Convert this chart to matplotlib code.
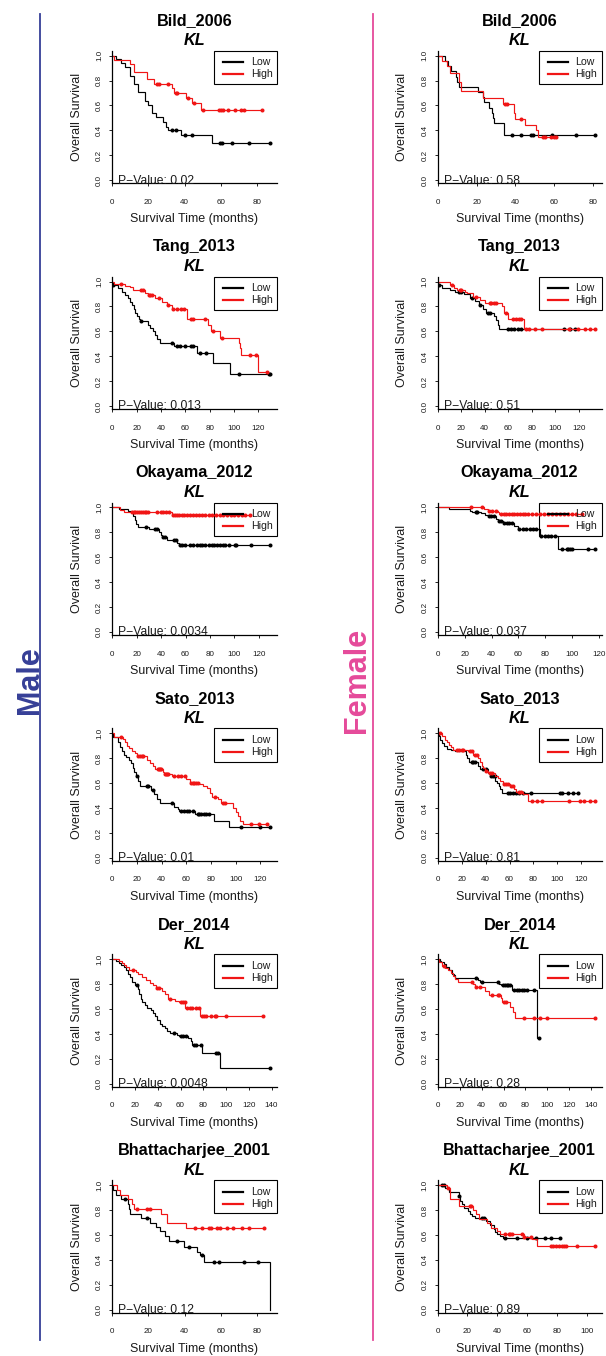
import numpy as np
import matplotlib
matplotlib.use("Agg")
import matplotlib.pyplot as plt
from matplotlib.lines import Line2D
from matplotlib.patches import Rectangle

plt.rcParams['font.family'] = ['Liberation Sans', 'DejaVu Sans']

# ---------------------------------------------------------------- data
studies = ["Bild_2006", "Tang_2013", "Okayama_2012", "Sato_2013", "Der_2014", "Bhattacharjee_2001"]
gene = "KL"
groups = ["Low", "High"]
pvals_male = ["0.02", "0.013", "0.0034", "0.01", "0.0048", "0.12"]
pvals_female = ["0.58", "0.51", "0.037", "0.81", "0.28", "0.89"]

# Kaplan-Meier curves: event times (_t), survival after each event (_s), censor times (_c)
# --- Bild_2006
bild_m_low_t = [2, 5, 7, 10, 12, 14, 18, 20, 22, 24, 28, 30, 31, 38, 55]
bild_m_low_s = [0.97, 0.94, 0.91, 0.84, 0.77, 0.71, 0.64, 0.60, 0.54, 0.51, 0.47, 0.43, 0.405, 0.365, 0.30]
bild_m_low_c = [33, 35, 40, 44, 59.5, 60.5, 66.5, 75.5, 87.5]
bild_m_high_t = [1, 10, 12, 19, 23, 33, 34, 41, 44, 49]
bild_m_high_s = [0.965, 0.93, 0.87, 0.81, 0.775, 0.74, 0.70, 0.66, 0.62, 0.565]
bild_m_high_c = [25, 26, 31, 35, 36, 42, 45, 50, 59, 60, 61, 64, 68, 71, 73, 83]

bild_f_low_t = [4, 5.5, 7, 9.5, 10, 11, 20.5, 23.5, 24, 26.5, 27.7, 28.5, 29, 34]
bild_f_low_s = [0.96, 0.92, 0.875, 0.83, 0.79, 0.75, 0.71, 0.67, 0.625, 0.58, 0.54, 0.50, 0.46, 0.365]
bild_f_low_c = [38, 43, 48, 48.8, 59, 71, 81]
bild_f_high_t = [2.4, 4.6, 6.3, 11, 12, 23.4, 33.7, 39.3, 40, 44.8, 50.5, 51.5]
bild_f_high_s = [0.96, 0.92, 0.86, 0.79, 0.715, 0.66, 0.61, 0.54, 0.49, 0.44, 0.40, 0.35]
bild_f_high_c = [34.5, 35.4, 43, 54, 55.4, 58.5, 60, 61]

# --- Tang_2013
tang_m_low_t = [0.5, 5, 7.7, 10.4, 12.6, 14.5, 16, 17.8, 18.6, 20.5, 22, 23, 29.5, 31.4, 33.6,
                35.5, 37, 39.6, 50.8, 69.7, 82.8, 96.5]
tang_m_low_s = [0.975, 0.95, 0.92, 0.895, 0.865, 0.84, 0.81, 0.78, 0.75, 0.72, 0.70, 0.68, 0.655, 0.63,
                0.60, 0.57, 0.535, 0.505, 0.48, 0.43, 0.345, 0.26]
tang_m_low_c = [0.8, 24, 48.7, 53.3, 55.5, 59.6, 65, 66.4, 71.9, 77.4, 104, 128.8, 130]
tang_m_high_t = [1.4, 10.4, 14.5, 17.2, 26.8, 29, 35, 40.5, 44.6, 48.7, 61.8, 78.7, 81.5, 88.3,
                 104, 104.7, 106, 119.7]
tang_m_high_s = [0.98, 0.965, 0.955, 0.935, 0.91, 0.89, 0.865, 0.835, 0.81, 0.78, 0.70, 0.655, 0.60,
                 0.55, 0.51, 0.465, 0.41, 0.27]
tang_m_high_c = [7.1, 23.5, 24.9, 30, 31.4, 32.8, 38.3, 45.9, 50, 52.8, 56.9, 58.8, 64.5, 66.4, 76,
                 82.8, 90.2, 113, 118.4, 127]

tang_f_low_t = [0.5, 3.7, 10.4, 14.6, 22.5, 27.2, 31.5, 34.8, 38.5, 41.3, 47.8, 49.7, 51.1, 52.5]
tang_f_low_s = [0.976, 0.95, 0.935, 0.92, 0.90, 0.87, 0.845, 0.81, 0.78, 0.75, 0.72, 0.69, 0.655, 0.62]
tang_f_low_c = [1.4, 17.7, 20.2, 29.2, 36.2, 42.7, 44.9, 59.6, 62.4, 65.2, 68, 70.8, 107.3, 112.9, 117.1]
tang_f_high_t = [10.4, 14, 16, 23, 25.3, 30, 35.7, 39.9, 54.5, 56.7, 59.6, 73.6]
tang_f_high_s = [0.976, 0.95, 0.93, 0.92, 0.905, 0.88, 0.855, 0.83, 0.80, 0.745, 0.70, 0.62]
tang_f_high_c = [11.8, 18.8, 19.7, 32.9, 44.1, 45.5, 48.3, 49.7, 58.1, 63.8, 66.6, 69.4, 70.8, 75,
                 77.8, 82.9, 89, 111.5, 119.4, 125.6, 129.8, 134]

# --- Okayama_2012
okay_m_low_t = [5.5, 13, 15.8, 17, 18.3, 19.6, 21, 30, 38, 39.5, 40.5, 44.5, 53, 54.5]
okay_m_low_s = [0.985, 0.97, 0.955, 0.93, 0.90, 0.87, 0.845, 0.825, 0.80, 0.78, 0.76, 0.735, 0.715, 0.695]
okay_m_low_c = [27.3, 35, 37, 41.5, 43, 50.5, 52, 55.5, 57.5, 59.5, 63.8, 66.5, 69.2, 71.9, 73.8, 76,
                79.1, 81.3, 83.2, 85.4, 88.1, 90.8, 92.1, 95.5, 100.3, 101.7, 114, 129.5]
okay_m_high_t = [6, 9.5, 49]
okay_m_high_s = [0.98, 0.965, 0.94]
okay_m_high_c = [16, 17.5, 19, 20.5, 22, 23.5, 25, 26.5, 28, 29.5, 37, 39.5, 41.5, 43.6, 46.4, 50,
                 51.5, 53, 55, 57, 59, 61, 63.5, 66, 68.5, 71, 73.5, 76, 79, 82, 85, 88, 91, 94, 97,
                 100, 103, 106, 109, 112.5]

okay_f_low_t = [8.2, 24, 25.8, 32, 35.2, 37, 43.2, 44.5, 48.2, 56.5, 59.5, 75.7, 89.5]
okay_f_low_s = [0.985, 0.975, 0.965, 0.955, 0.94, 0.93, 0.905, 0.89, 0.875, 0.85, 0.825, 0.77, 0.665]
okay_f_low_c = [28.2, 29.5, 38.2, 39.5, 41.5, 45.7, 47, 49.5, 51.5, 53.2, 55, 60.7, 63.2, 65.7, 68.2,
                70.7, 73.2, 77, 79.5, 82, 84.5, 87, 92, 95.7, 97, 98.2, 99.5, 112, 117]
okay_f_high_t = [34.5, 37, 44.5, 45.7]
okay_f_high_s = [0.985, 0.97, 0.96, 0.945]
okay_f_high_c = [25, 33.2, 38.2, 40.7, 43.2, 47, 49, 51, 53, 55, 57, 59, 61, 63, 65, 67, 70, 73, 76,
                 79, 82, 85, 88, 91, 94, 97, 100, 103, 107]

# --- Sato_2013
sato_m_low_t = [0.5, 4.6, 6, 7.6, 9.5, 11.4, 13.6, 15.5, 16.6, 17.6, 19, 20.9, 22.5, 31.2, 34, 36.1,
                38.8, 50.2, 53, 54.3, 67.3, 82.3, 94.5]
sato_m_low_s = [0.97, 0.93, 0.89, 0.855, 0.83, 0.81, 0.79, 0.76, 0.72, 0.69, 0.66, 0.62, 0.575, 0.545,
                0.51, 0.475, 0.44, 0.41, 0.39, 0.38, 0.355, 0.30, 0.25]
sato_m_low_c = [19.8, 27.7, 29, 32.6, 48.3, 55.7, 58.4, 60.5, 62.4, 65.2, 69, 70.6, 72, 74, 76, 78.2,
                104.5, 119.5, 128]
sato_m_high_t = [1.4, 8.7, 10.3, 12.2, 13.8, 15.7, 18.2, 20.4, 28, 30.4, 33.1, 34.8, 40.7, 42, 48.3,
                 59.7, 63, 70.6, 73.3, 76.6, 79.5, 80.9, 85.5, 87.7, 97.7, 100.5, 101.8, 103.7, 106]
sato_m_high_s = [0.97, 0.955, 0.93, 0.90, 0.88, 0.86, 0.84, 0.82, 0.79, 0.76, 0.735, 0.715, 0.69,
                 0.675, 0.66, 0.635, 0.605, 0.59, 0.58, 0.56, 0.52, 0.49, 0.47, 0.44, 0.40, 0.37,
                 0.34, 0.30, 0.27]
sato_m_high_c = [6.8, 21, 22.5, 24, 25, 36.6, 37.5, 38.5, 39.4, 42.6, 43.5, 44.4, 45.3, 50, 53, 55.6,
                 59, 63.8, 65, 66.5, 68, 69.2, 82.8, 89.6, 91, 112, 118.7, 125]

sato_f_low_t = [0.8, 2.2, 3.6, 5, 7.7, 11, 14.6, 23.7, 24.8, 26.4, 33.9, 35.2, 42.1, 43.5, 48.2, 49.5,
                50.9, 52.3, 53.7]
sato_f_low_s = [0.975, 0.95, 0.92, 0.895, 0.875, 0.865, 0.855, 0.83, 0.80, 0.77, 0.74, 0.71, 0.68,
                0.66, 0.62, 0.60, 0.58, 0.555, 0.52]
sato_f_low_c = [28.4, 29.7, 31.1, 38, 40.2, 44.9, 46.2, 47.6, 58.6, 60.6, 62.8, 65.5, 68.3, 71, 77.9,
                102, 103.5, 109, 113, 117.3]
sato_f_high_t = [3.6, 6.3, 7.7, 9.6, 11.3, 13.2, 25.6, 29.7, 33.9, 35.2, 36.6, 38, 39.4, 42.1, 47.6,
                 50.4, 52.3, 54.5, 60.6, 64.1, 65.5, 71, 75.1]
sato_f_high_s = [0.975, 0.95, 0.93, 0.91, 0.89, 0.87, 0.855, 0.83, 0.80, 0.77, 0.74, 0.72, 0.70,
                 0.68, 0.66, 0.64, 0.615, 0.595, 0.575, 0.55, 0.53, 0.51, 0.455]
sato_f_high_c = [1.7, 16, 18, 20, 21.5, 27, 28.4, 31.1, 32.5, 40.7, 43.5, 45.5, 55, 57, 59, 61.4, 62.8,
                 67.7, 69.6, 78.7, 82.9, 87.5, 109.5, 119, 122.5, 127.4, 131.6]

# --- Der_2014
der_m_low_t = [3, 5.9, 7.9, 10.3, 12.3, 14, 16, 17.6, 19.6, 22.5, 23.7, 24.9, 26.4, 28.4, 30.8, 33.7,
               36, 37.5, 39.5, 41.6, 43.9, 46.3, 48.3, 50.7, 57, 59, 66.5, 68.8, 70.3, 79, 94.6]
der_m_low_s = [0.985, 0.97, 0.955, 0.94, 0.91, 0.88, 0.855, 0.82, 0.79, 0.76, 0.72, 0.685, 0.66, 0.63,
               0.61, 0.59, 0.57, 0.545, 0.51, 0.48, 0.465, 0.445, 0.42, 0.405, 0.39, 0.38, 0.365,
               0.345, 0.31, 0.25, 0.125]
der_m_low_c = [21.4, 54.2, 60.6, 62.4, 64.4, 71.8, 74, 77.6, 91.4, 92.9, 139]
der_m_high_t = [5.9, 8.2, 10.3, 12.3, 14.6, 20.5, 22.8, 26.4, 29.3, 33.1, 36, 38, 44, 46.3, 49, 54.8,
                58.6, 64, 77]
der_m_high_s = [0.985, 0.97, 0.955, 0.935, 0.915, 0.90, 0.88, 0.86, 0.835, 0.81, 0.79, 0.77, 0.745,
                0.72, 0.685, 0.665, 0.655, 0.61, 0.545]
der_m_high_c = [18.2, 39, 41, 50.7, 60, 62.4, 63.6, 66, 68, 70.3, 74, 76, 78.5, 80.5, 82.6, 86.4, 90,
                91.4, 100, 132.7]

der_f_low_t = [1.8, 3.3, 5.5, 7.6, 10, 13, 15.2, 16, 36.7, 38.9, 55.6, 57.7, 67.7, 90.5]
der_f_low_s = [0.99, 0.975, 0.96, 0.935, 0.91, 0.88, 0.87, 0.85, 0.83, 0.82, 0.80, 0.79, 0.75, 0.37]
der_f_low_c = [35, 40.4, 54.7, 59.5, 61, 63, 64.5, 66, 70, 72, 74.5, 76.5, 78.5, 81, 88, 92]
der_f_high_t = [0.9, 4, 7, 9.4, 12, 14, 16, 18.2, 31.9, 33.7, 43.4, 46.5, 57.7, 58.6, 66.2, 68.6, 70.8]
der_f_high_s = [0.975, 0.95, 0.93, 0.91, 0.89, 0.865, 0.84, 0.82, 0.80, 0.78, 0.745, 0.71, 0.69,
                0.66, 0.62, 0.58, 0.53]
der_f_high_c = [5.5, 31.3, 35.2, 38.3, 49.5, 54.7, 56.2, 60.7, 62.6, 79, 87.5, 93.5, 99.6, 143.6]

# --- Bhattacharjee_2001
bhat_m_low_t = [0.3, 1.8, 4.6, 8.8, 9.2, 9.6, 15.6, 20.8, 23.9, 26.3, 28.9, 31.6, 39.5, 46.9, 48.7,
                50.6, 87.4]
bhat_m_low_s = [0.965, 0.925, 0.89, 0.85, 0.81, 0.77, 0.735, 0.70, 0.665, 0.63, 0.59, 0.55, 0.505,
                0.465, 0.44, 0.385, 0.0]
bhat_m_low_c = [6.8, 19, 35.5, 42.3, 49.7, 56.5, 58.9, 73, 80.4]
bhat_m_high_t = [2.8, 4.2, 8.6, 10.7, 12, 26.7, 30, 41]
bhat_m_high_s = [0.96, 0.925, 0.885, 0.845, 0.81, 0.77, 0.695, 0.655]
bhat_m_high_c = [13.8, 19.3, 20.8, 46, 49.7, 53.3, 54.6, 58, 59.8, 63.4, 67, 71.7, 75.4, 83.7]

bhat_f_low_t = [5.2, 7.4, 14.1, 15.2, 16.4, 18, 20.2, 21.5, 23, 25.3, 32.7, 35.4, 37.7, 38.8, 40,
                41.7, 44]
bhat_f_low_s = [0.975, 0.945, 0.91, 0.875, 0.845, 0.82, 0.79, 0.77, 0.755, 0.74, 0.71, 0.68, 0.65,
                0.625, 0.61, 0.595, 0.575]
bhat_f_low_c = [2.9, 4, 14.6, 29.8, 30.9, 45.5, 53.4, 60, 65.7, 72, 76.2, 82]
bhat_f_high_t = [6.3, 8, 14, 24, 26, 28, 33, 36, 40, 42, 57.8, 63.5, 66.8]
bhat_f_high_s = [0.975, 0.89, 0.835, 0.80, 0.77, 0.73, 0.70, 0.66, 0.635, 0.61, 0.585, 0.57, 0.51]
bhat_f_high_c = [7, 21.5, 22.5, 45, 47.8, 48.9, 50, 56.7, 58.3, 63, 75.8, 77.5, 79.5, 81.5, 83.5, 85,
                 86.5, 93.7, 105.8]

male_curves = [
    [(bild_m_low_t, bild_m_low_s, bild_m_low_c), (bild_m_high_t, bild_m_high_s, bild_m_high_c)],
    [(tang_m_low_t, tang_m_low_s, tang_m_low_c), (tang_m_high_t, tang_m_high_s, tang_m_high_c)],
    [(okay_m_low_t, okay_m_low_s, okay_m_low_c), (okay_m_high_t, okay_m_high_s, okay_m_high_c)],
    [(sato_m_low_t, sato_m_low_s, sato_m_low_c), (sato_m_high_t, sato_m_high_s, sato_m_high_c)],
    [(der_m_low_t, der_m_low_s, der_m_low_c), (der_m_high_t, der_m_high_s, der_m_high_c)],
    [(bhat_m_low_t, bhat_m_low_s, bhat_m_low_c), (bhat_m_high_t, bhat_m_high_s, bhat_m_high_c)],
]
female_curves = [
    [(bild_f_low_t, bild_f_low_s, bild_f_low_c), (bild_f_high_t, bild_f_high_s, bild_f_high_c)],
    [(tang_f_low_t, tang_f_low_s, tang_f_low_c), (tang_f_high_t, tang_f_high_s, tang_f_high_c)],
    [(okay_f_low_t, okay_f_low_s, okay_f_low_c), (okay_f_high_t, okay_f_high_s, okay_f_high_c)],
    [(sato_f_low_t, sato_f_low_s, sato_f_low_c), (sato_f_high_t, sato_f_high_s, sato_f_high_c)],
    [(der_f_low_t, der_f_low_s, der_f_low_c), (der_f_high_t, der_f_high_s, der_f_high_c)],
    [(bhat_f_low_t, bhat_f_low_s, bhat_f_low_c), (bhat_f_high_t, bhat_f_high_s, bhat_f_high_c)],
]

# ---------------------------------------------------------------- style
W, H = 606, 1356
GROUP_COLORS = ["#000000", "#F01515"]
MALE_COLOR = "#363F97"
FEMALE_COLOR = "#E54A9A"
TEXT = "#1A1A1A"

fig = plt.figure(figsize=(W / 100, H / 100), dpi=100)


def add_axes_px(left, top, width, height):
    return fig.add_axes([left / W, 1 - (top + height) / H, width / W, height / H])


def survival_at(t, s, query):
    idx = np.searchsorted(t, query, side="right")
    return np.concatenate([[1.0], s])[idx]


def draw_panel(ax, study, pval, curves):
    tmax = 0
    for (t, s, c), col in zip(curves, GROUP_COLORS):
        t = np.asarray(t, float)
        s = np.asarray(s, float)
        c = np.asarray(c, float)
        end = max(t.max(), c.max())
        tmax = max(tmax, end)
        x = np.concatenate([[0.0], t, [end]])
        y = np.concatenate([[1.0], s, [s[-1]]])
        ax.step(x, y, where="post", color=col, lw=0.85, solid_joinstyle="miter")
        ax.plot(c, survival_at(t, s, c), "o", color=col, ms=2.9, mec="none")

    xmax = tmax * 1.04
    ax.set_xlim(0, xmax)
    ax.set_ylim(-0.025, 1.04)
    ax.set_xticks(np.arange(0, xmax, 20))
    yt = np.round(np.arange(0, 1.01, 0.2), 1)
    ax.set_yticks(yt)
    ax.set_yticklabels([f"{v:.1f}" for v in yt], rotation=90, va="center")
    for side in ("top", "right"):
        ax.spines[side].set_visible(False)
    for side in ("left", "bottom"):
        ax.spines[side].set_linewidth(0.9)
    ax.tick_params(axis="both", length=2.3, width=0.6, labelsize=5.8, labelcolor=TEXT)
    ax.tick_params(axis="x", pad=8.8)
    ax.tick_params(axis="y", pad=4.3)

    # titles
    ax.annotate(study, xy=(0.5, 1), xycoords="axes fraction", xytext=(0, 21.6),
                textcoords="offset points", ha="center", va="center",
                fontsize=11.7, fontweight="bold", color="black")
    ax.annotate(gene, xy=(0.5, 1), xycoords="axes fraction", xytext=(0, 7.0),
                textcoords="offset points", ha="center", va="center",
                fontsize=11.7, fontweight="bold", fontstyle="italic", color="black")
    # axis labels
    ax.annotate("Overall Survival", xy=(0, 0.5), xycoords="axes fraction", xytext=(-25.6, 0),
                textcoords="offset points", rotation=90, ha="center", va="center",
                fontsize=9, color=TEXT)
    ax.annotate("Survival Time (months)", xy=(0.5, 0), xycoords="axes fraction", xytext=(0, -26),
                textcoords="offset points", ha="center", va="center", fontsize=9, color=TEXT)
    # p-value
    ax.text(0.0365, -0.002, f"P\u2212Value: {pval}", transform=ax.transAxes,
            ha="left", va="baseline", fontsize=8.7, color=TEXT)

    # legend box in the upper right corner (transparent)
    ax.add_patch(Rectangle((0.619, 0.749), 0.381, 0.251, transform=ax.transAxes,
                           fill=False, ec="black", lw=0.8, clip_on=False))
    for i, (name, col) in enumerate(zip(groups, GROUP_COLORS)):
        yy = 0.9125 - i * 0.0905
        ax.add_line(Line2D([0.673, 0.793], [yy, yy], transform=ax.transAxes, color=col,
                           lw=1.6, clip_on=False))
        ax.text(0.842, yy, name, transform=ax.transAxes, ha="left", va="center",
                fontsize=7.6, color=TEXT)


col_left = [112.3, 437.7]
col_width = [164.4, 163.8]
row_top0, row_pitch, ax_h = 50.7, 225.9, 132.6

for r, study in enumerate(studies):
    top = row_top0 + r * row_pitch
    axm = add_axes_px(col_left[0], top, col_width[0], ax_h)
    draw_panel(axm, study, pvals_male[r], male_curves[r])
    axf = add_axes_px(col_left[1], top, col_width[1], ax_h)
    draw_panel(axf, study, pvals_female[r], female_curves[r])

# column headers and separators
fig.text(30 / W, 1 - 680 / H, "Male", rotation=90, ha="center", va="center",
         fontsize=22, fontweight="bold", color=MALE_COLOR)
fig.text(357 / W, 1 - 680 / H, "Female", rotation=90, ha="center", va="center",
         fontsize=22, fontweight="bold", color=FEMALE_COLOR)
fig.add_artist(Line2D([40 / W, 40 / W], [1 - 14 / H, 1 - 1340 / H], transform=fig.transFigure,
                      color=MALE_COLOR, lw=1.3))
fig.add_artist(Line2D([373 / W, 373 / W], [1 - 14 / H, 1 - 1340 / H], transform=fig.transFigure,
                      color=FEMALE_COLOR, lw=1.3))

fig.savefig("out.png", dpi=100, facecolor="white")
